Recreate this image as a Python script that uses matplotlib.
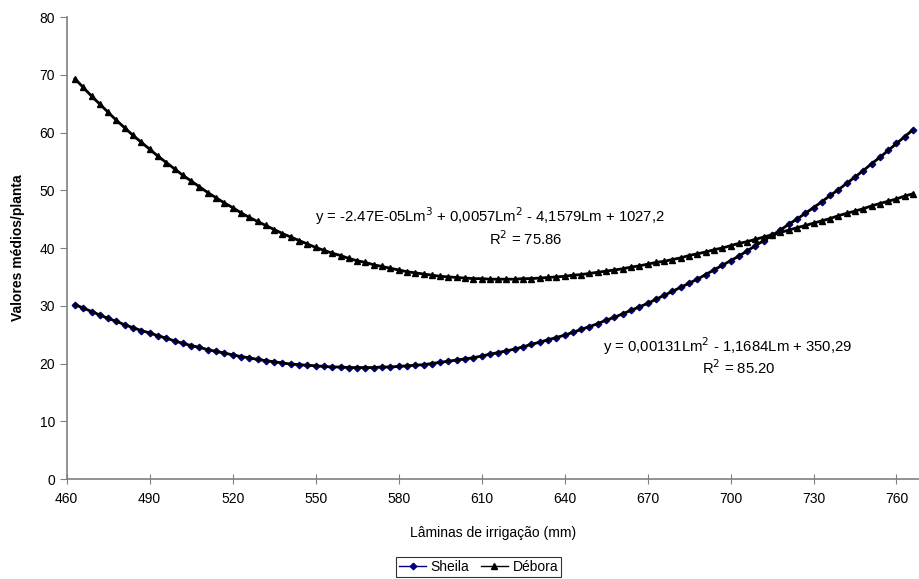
import numpy as np
import matplotlib
matplotlib.use("Agg")
import matplotlib.pyplot as plt

plt.rcParams['font.family'] = ['Liberation Sans', 'DejaVu Sans']

# irrigation depths (mm), one marker every 3 mm
laminas = np.arange(463, 767, 3)

sheila = [30.2, 29.6, 29.0, 28.4, 27.8, 27.3, 26.7, 26.2, 25.7, 25.3,
          24.8, 24.4, 23.9, 23.5, 23.1, 22.8, 22.4, 22.1, 21.8, 21.5,
          21.2, 21.0, 20.7, 20.5, 20.3, 20.1, 19.9, 19.8, 19.7, 19.6,
          19.5, 19.4, 19.4, 19.3, 19.3, 19.3, 19.3, 19.4, 19.4, 19.5,
          19.6, 19.7, 19.8, 20.0, 20.2, 20.4, 20.6, 20.8, 21.0, 21.3,
          21.6, 21.9, 22.2, 22.5, 22.9, 23.3, 23.7, 24.1, 24.5, 24.9,
          25.4, 25.9, 26.4, 26.9, 27.5, 28.0, 28.6, 29.2, 29.8, 30.4,
          31.1, 31.8, 32.5, 33.2, 33.9, 34.6, 35.4, 36.2, 37.0, 37.8,
          38.6, 39.5, 40.4, 41.3, 42.2, 43.1, 44.1, 45.0, 46.0, 47.0,
          48.0, 49.1, 50.1, 51.2, 52.3, 53.4, 54.6, 55.7, 56.9, 58.1,
          59.3, 60.5]

debora = [69.3, 67.8, 66.3, 64.9, 63.5, 62.1, 60.8, 59.5, 58.3, 57.1,
          55.9, 54.8, 53.7, 52.6, 51.6, 50.6, 49.6, 48.7, 47.8, 47.0,
          46.1, 45.3, 44.6, 43.9, 43.2, 42.5, 41.9, 41.3, 40.7, 40.1,
          39.6, 39.1, 38.7, 38.2, 37.8, 37.5, 37.1, 36.8, 36.5, 36.2,
          35.9, 35.7, 35.5, 35.3, 35.1, 35.0, 34.9, 34.8, 34.7, 34.7,
          34.6, 34.6, 34.6, 34.6, 34.7, 34.7, 34.8, 34.9, 35.0, 35.1,
          35.3, 35.4, 35.6, 35.8, 36.0, 36.2, 36.4, 36.7, 36.9, 37.2,
          37.5, 37.7, 38.0, 38.3, 38.7, 39.0, 39.3, 39.7, 40.0, 40.4,
          40.8, 41.1, 41.5, 41.9, 42.3, 42.7, 43.1, 43.5, 43.9, 44.3,
          44.7, 45.1, 45.6, 46.0, 46.4, 46.8, 47.3, 47.7, 48.1, 48.5,
          49.0, 49.4]

xticks = np.arange(460, 761, 30)
yticks = np.arange(0, 81, 10)

fig = plt.figure(figsize=(9.2, 5.79), dpi=100)
ax = fig.add_axes([0.0725, 0.1727, 0.9275, 0.7979])

# series (markers), then black trend line drawn over them
ax.plot(laminas, sheila, color='#000080', lw=1, marker='D', ms=3.3,
        mfc='#000080', mec='#000080', label='Sheila', zorder=2)
ax.plot(laminas, debora, color='black', lw=1, marker='^', ms=4.5,
        mfc='black', mec='black', label='Débora', zorder=2)
ax.plot(laminas, sheila, color='black', lw=2, zorder=3)
ax.plot(laminas, debora, color='black', lw=2, zorder=3)

ax.set_xlim(460, 768.5)
ax.set_ylim(0, 80)
ax.set_xticks(xticks)
ax.set_yticks(yticks)
for s in ['top', 'right']:
    ax.spines[s].set_visible(False)
for s in ['left', 'bottom']:
    ax.spines[s].set_color('#808080')
    ax.spines[s].set_linewidth(1.2)
ax.tick_params(axis='y', direction='out', length=5, color='#808080', labelsize=10)
ax.tick_params(axis='x', direction='inout', length=7, color='#808080', labelsize=10, pad=6)

ax.set_xlabel('Lâminas de irrigação (mm)', fontsize=10, labelpad=14)
ax.set_ylabel('Valores médios/planta', fontsize=10, fontweight='bold', labelpad=10)

ax.text(613, 45.5, 'y = -2.47E-05Lm$^3$ + 0,0057Lm$^2$ - 4,1579Lm + 1027,2',
        ha='center', va='center', fontsize=10.7)
ax.text(626, 41.7, 'R$^2$ = 75.86', ha='center', va='center', fontsize=10.7)
ax.text(699, 23.0, 'y = 0,00131Lm$^2$ - 1,1684Lm + 350,29',
        ha='center', va='center', fontsize=10.7)
ax.text(703, 19.2, 'R$^2$ = 85.20', ha='center', va='center', fontsize=10.7)

leg = fig.legend(loc='lower center', bbox_to_anchor=(0.52, 0.004), ncol=2,
                 fontsize=10, frameon=True, fancybox=False, handlelength=2,
                 handletextpad=0.3, columnspacing=0.8, borderpad=0.2,
                 borderaxespad=0)
leg.get_frame().set_edgecolor('black')
leg.get_frame().set_linewidth(0.8)

fig.savefig('out.png', dpi=100)
